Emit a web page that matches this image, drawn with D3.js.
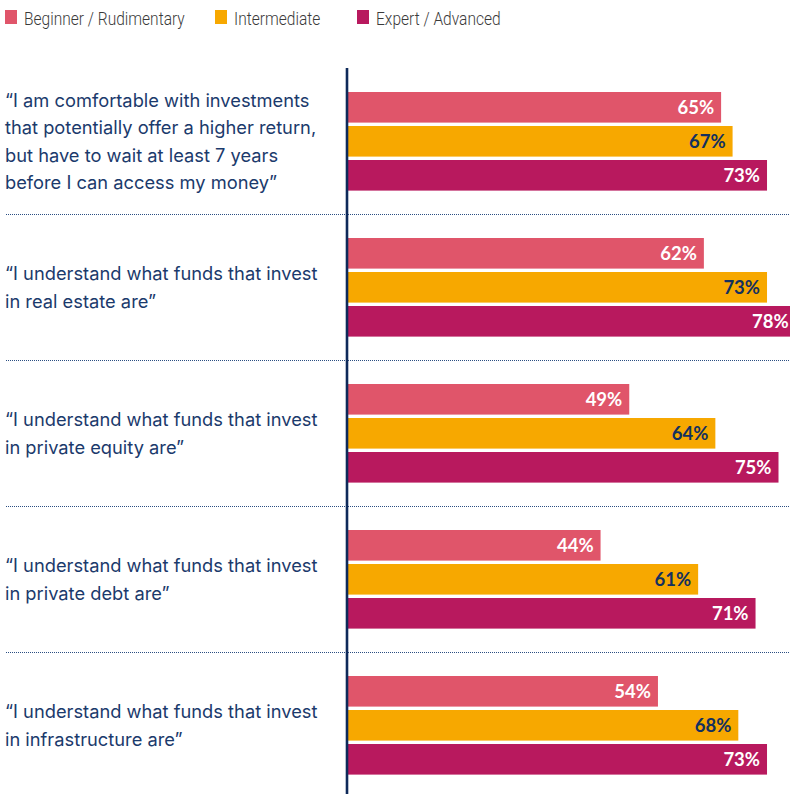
<!DOCTYPE html>
<html><head><meta charset="utf-8">
<script src="https://cdn.jsdelivr.net/npm/d3@7"></script>
<style>body{margin:0;background:#fff}svg{display:block}</style>
</head><body><svg id="c" width="790" height="794"></svg>
<script>
const series = ["Beginner / Rudimentary", "Intermediate", "Expert / Advanced"];
const colors = ["#E0556A", "#F7A800", "#B8195E"];
const labelColors = ["#ffffff", "#13305F", "#ffffff"];
const questions = [
  ["“I am comfortable with investments", "that potentially offer a higher return,", "but have to wait at least 7 years", "before I can access my money”"],
  ["“I understand what funds that invest", "in real estate are”"],
  ["“I understand what funds that invest", "in private equity are”"],
  ["“I understand what funds that invest", "in private debt are”"],
  ["“I understand what funds that invest", "in infrastructure are”"]
];
const beginner = [65, 62, 49, 44, 54];
const intermediate = [67, 73, 64, 61, 68];
const expert = [73, 78, 75, 71, 73];
const values = [beginner, intermediate, expert];

const svg = d3.select("#c");
const W = 790, H = 794;
const axisX = 348;
const x = d3.scaleLinear().domain([0, 100]).range([axisX, axisX + 574]);
const y = d3.scaleBand().domain(d3.range(questions.length)).range([68, 68 + 146 * 5]).padding(0);
const yi = d3.scaleBand().domain(d3.range(series.length)).range([24, 24 + 34 * 2.9]).paddingInner(0.1).paddingOuter(0);

// legend
const legX = [5, 215, 357];
const leg = svg.append("g");
series.forEach((s, i) => {
  leg.append("rect").attr("x", legX[i]).attr("y", 10).attr("width", 12).attr("height", 14).attr("fill", colors[i]);
  leg.append("text").attr("transform", `translate(${legX[i] + 19},25) scale(0.84,1)`).text(s)
    .attr("font-family", "Roboto").attr("font-weight", 300).attr("font-size", 18.5).attr("fill", "#3a3a3a");
});

// separators
svg.append("g").selectAll("line").data(d3.range(1, questions.length)).join("line")
  .attr("x1", 6).attr("x2", W).attr("y1", d => y(d) + 0.5).attr("y2", d => y(d) + 0.5)
  .attr("stroke", "#2B4E82").attr("stroke-width", 1).attr("stroke-dasharray", "1,1");

// groups
const g = svg.append("g").selectAll("g").data(questions).join("g")
  .attr("transform", (d, i) => `translate(0,${y(i)})`);

g.each(function(q, qi) {
  const gg = d3.select(this);
  const cy = yi(0) + (yi(2) + yi.bandwidth() - yi(0)) / 2;
  const lh = 27.5;
  const t = gg.append("text").attr("font-family", "Inter").attr("font-size", 18.3).attr("fill", "#1B3A6C");
  q.forEach((line, li) => {
    t.append("tspan").attr("x", 5).attr("y", cy + (li - (q.length - 1) / 2) * lh + 6.5).text(line);
  });
  series.forEach((s, si) => {
    const v = values[si][qi];
    gg.append("rect").attr("x", x(0)).attr("y", yi(si)).attr("width", x(v) - x(0)).attr("height", yi.bandwidth()).attr("fill", colors[si]);
    gg.append("text").attr("x", x(v) - 7).attr("y", yi(si) + yi.bandwidth() / 2 + 6.5)
      .attr("text-anchor", "end").attr("font-family", "Lato").attr("font-weight", 700).attr("font-size", 18.5)
      .attr("fill", labelColors[si]).text(v + "%");
  });
});

// axis line
svg.append("line").attr("x1", 347).attr("x2", 347).attr("y1", 68).attr("y2", H).attr("stroke", "#0E2A5A").attr("stroke-width", 2.6);
</script></body></html>
